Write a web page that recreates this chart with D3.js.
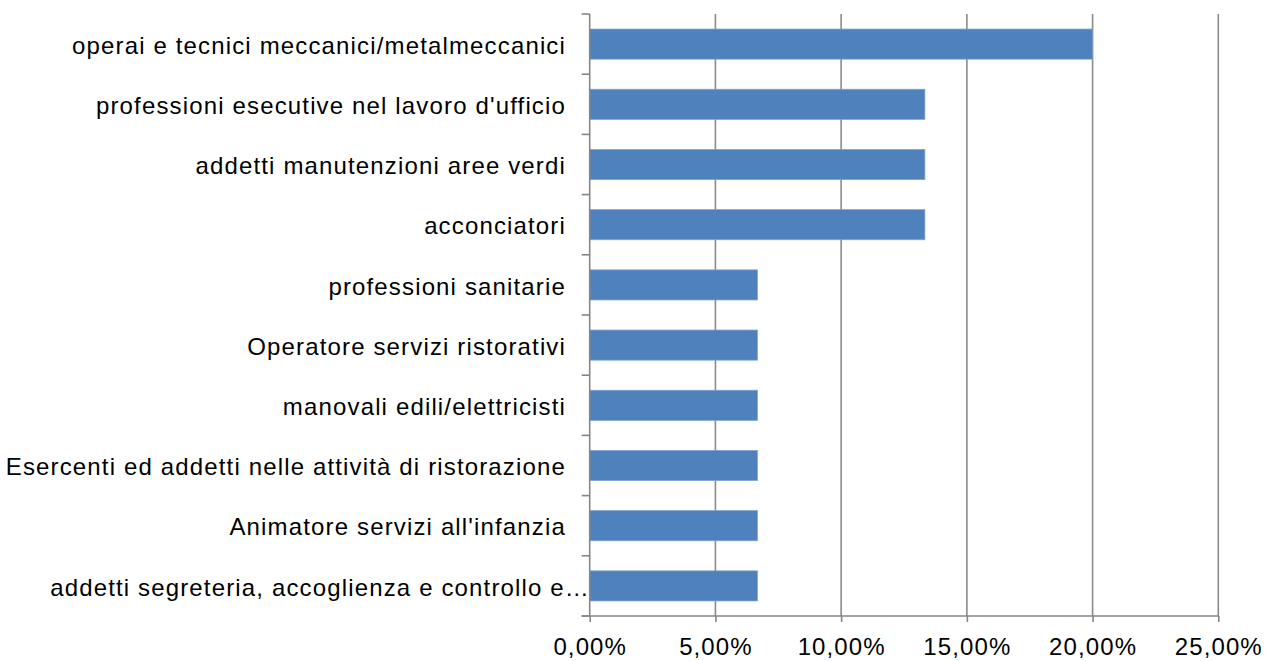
<!DOCTYPE html>
<html><head><meta charset="utf-8">
<script src="https://cdn.jsdelivr.net/npm/d3@7"></script>
<style>body{margin:0;background:#fff}svg{display:block}text{font-family:"Liberation Sans",Arial,sans-serif;fill:#000}</style>
</head><body>
<script>
const categories = [
  "operai e tecnici meccanici/metalmeccanici",
  "professioni esecutive nel lavoro d'ufficio",
  "addetti manutenzioni aree verdi",
  "acconciatori",
  "professioni sanitarie",
  "Operatore servizi ristorativi",
  "manovali edili/elettricisti",
  "Esercenti ed addetti nelle attività di ristorazione",
  "Animatore servizi all'infanzia",
  "addetti segreteria, accoglienza e controllo e…"
];
const values = [0.20, 0.1333, 0.1333, 0.1333, 0.0667, 0.0667, 0.0667, 0.0667, 0.0667, 0.0667];
const xTicks = [0, 0.05, 0.10, 0.15, 0.20, 0.25];

const W = 1265, H = 661;
const svg = d3.select("body").append("svg").attr("width", W).attr("height", H);
const x = d3.scaleLinear().domain([0, 0.25]).range([589.7, 1218.3]);
const y = d3.scaleBand().domain(categories).range([14, 616]).paddingInner(0.5).paddingOuter(0.25);
const fmt = d => d3.format(".2f")(d * 100).replace(".", ",") + "%";

// gridlines
svg.append("g").selectAll("line").data(xTicks.slice(1)).join("line")
  .attr("x1", d => x(d)).attr("x2", d => x(d)).attr("y1", 14).attr("y2", 616)
  .attr("stroke", "#8a8a8a").attr("stroke-width", 1.6);

// bars
svg.append("g").selectAll("rect").data(values).join("rect")
  .attr("x", x(0)).attr("y", (d, i) => y(categories[i]))
  .attr("width", d => x(d) - x(0)).attr("height", y.bandwidth())
  .attr("fill", "#4f81bd").attr("stroke", "#7fa3cf").attr("stroke-width", 0.8);

// x axis
const xa = svg.append("g").attr("transform", "translate(0,616)")
  .call(d3.axisBottom(x).tickValues(xTicks).tickFormat(fmt).tickSize(6).tickPadding(10));
xa.select(".domain").attr("stroke", "#868686").attr("stroke-width", 1.6).attr("d", `M${x(0)-8},0H${x(0.25)}`);
xa.selectAll(".tick line").attr("stroke", "#868686").attr("stroke-width", 1.6);
xa.selectAll(".tick text").attr("font-size", 24).attr("letter-spacing", "1.1px")
  .attr("font-family", "Liberation Sans, Arial, sans-serif").attr("fill", "#000")
  .attr("y", 22).attr("dy", "0.71em");

// y axis
const bandEdges = d3.range(categories.length + 1).map(i => 14 + i * (602 / categories.length));
const ya = svg.append("g");
ya.append("line").attr("x1", x(0)).attr("x2", x(0)).attr("y1", 14).attr("y2", 616)
  .attr("stroke", "#868686").attr("stroke-width", 1.6);
ya.selectAll("line.t").data(bandEdges).join("line").attr("class", "t")
  .attr("x1", x(0) - 8).attr("x2", x(0)).attr("y1", d => d).attr("y2", d => d)
  .attr("stroke", "#868686").attr("stroke-width", 1.6);
ya.selectAll("text").data(categories).join("text")
  .attr("x", (d, i) => i === categories.length - 1 ? 590 : 566)
  .attr("y", d => y(d) + y.bandwidth() / 2).attr("dy", "0.4em")
  .attr("text-anchor", "end").attr("font-size", 24).attr("letter-spacing", "1.15px").text(d => d);
</script>
</body></html>
